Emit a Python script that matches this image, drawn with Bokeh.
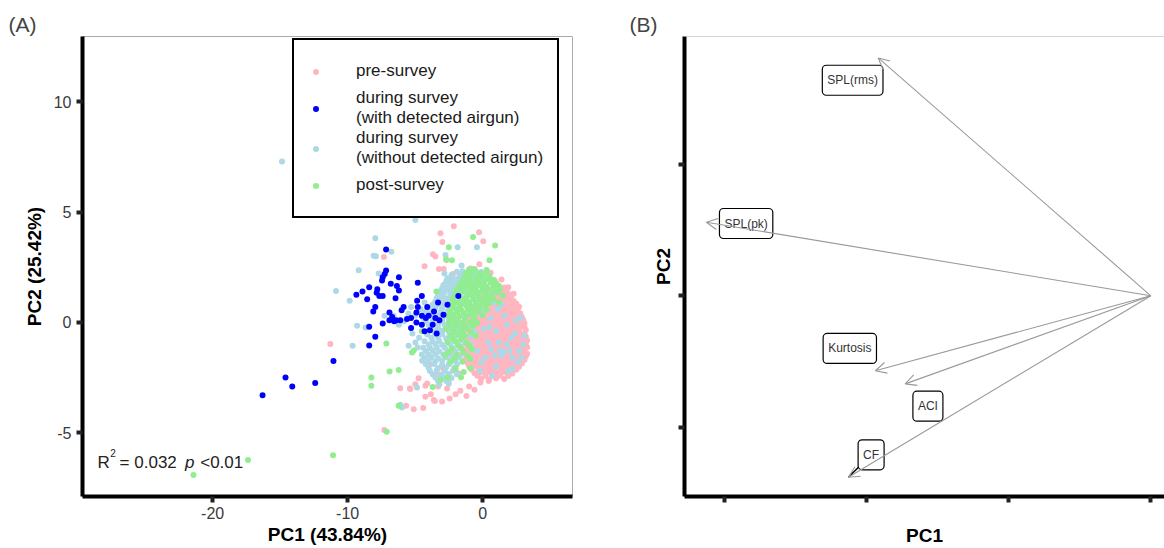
from bokeh.plotting import figure
from bokeh.layouts import row
from bokeh.models import (Legend, LegendItem, Label, Arrow, OpenHead, ColumnDataSource,
                          FixedTicker, Span, Range1d)
from bokeh.embed import file_html
from bokeh.resources import INLINE

FONT = "Liberation Sans"

# ---------------- Panel A data (PC1, PC2 scores) ----------------
pre_pts = [
    (-3.12, 4.04), (-2.13, 4.36), (-0.26, 4.09), (0.05, 3.68), (-2.98, 3.64), (-3.68, 3.09),
    (-3.50, 2.99), (-4.30, 2.55), (-2.70, 1.78), (-3.24, 2.42), (-2.88, 2.42), (-2.20, 2.20),
    (-0.24, 2.64), (-2.68, 2.82), (-7.31, 2.97), (-11.28, -0.98), (-0.90, 2.45), (0.60, 2.25),
    (0.90, 1.90), (1.40, 1.95), (1.90, 1.60), (2.30, 1.30),
    (-6.10, -2.98), (-5.39, -3.00), (-4.98, -2.80), (-5.67, -3.78), (-5.10, -3.93), (-4.40, -3.88),
    (-4.24, -3.37), (-3.62, -3.52), (-3.00, -3.58), (-2.44, -3.45), (-1.65, -3.10), (-1.20, -3.33),
    (-5.35, -3.02), (-4.24, -2.87), (-2.63, -3.00), (-0.16, -2.72), (0.45, -2.65), (-7.28, -4.88),
    (-3.83, -3.25), (-3.54, -3.56), (-2.00, -3.25), (-4.74, -2.53), (-4.11, -2.77), (-3.30, -2.90),
    (-1.00, -2.90), (-0.60, -3.05), (-3.90, -1.90), (-3.40, -2.40), (-2.50, -2.60), (-1.80, -2.30),
    (-2.90, -2.10), (-2.10, -1.40),
    (0.80, 1.60), (1.20, 1.62), (1.60, 1.58),
    (0.60, 1.45), (1.00, 1.46), (1.40, 1.44), (1.80, 1.45),
    (0.40, 1.30), (0.90, 1.32), (1.30, 1.28), (1.70, 1.31), (2.00, 1.27),
    (0.10, 1.15), (0.50, 1.16), (0.90, 1.14), (1.30, 1.15), (1.70, 1.16), (2.10, 1.14),
    (-0.20, 1.00), (0.30, 1.02), (0.70, 0.98), (1.10, 1.01), (1.50, 0.99), (1.90, 1.03), (2.30, 0.97),
    (-0.40, 0.85), (0.10, 0.86), (0.50, 0.84), (0.90, 0.85), (1.30, 0.86), (1.70, 0.84), (2.10, 0.85),
    (2.50, 0.86),
    (-0.50, 0.70), (0.00, 0.72), (0.40, 0.68), (0.80, 0.71), (1.20, 0.69), (1.60, 0.72), (2.00, 0.70),
    (2.40, 0.68), (2.70, 0.71),
    (-0.60, 0.55), (-0.10, 0.56), (0.30, 0.54), (0.70, 0.55), (1.10, 0.56), (1.50, 0.54), (1.90, 0.55),
    (2.30, 0.56), (2.60, 0.54),
    (-0.80, 0.40), (-0.30, 0.42), (0.10, 0.38), (0.50, 0.41), (0.90, 0.40), (1.30, 0.43), (1.70, 0.39),
    (2.10, 0.41), (2.50, 0.38), (2.80, 0.40),
    (-0.90, 0.25), (-0.30, 0.26), (0.10, 0.24), (0.50, 0.25), (0.90, 0.26), (1.30, 0.24), (1.70, 0.25),
    (2.10, 0.26), (2.50, 0.24), (2.90, 0.25),
    (-1.00, 0.10), (-0.50, 0.12), (-0.10, 0.08), (0.30, 0.11), (0.70, 0.09), (1.10, 0.12), (1.50, 0.10),
    (1.90, 0.08), (2.30, 0.11), (2.70, 0.09), (3.00, 0.12),
    (-1.10, -0.05), (-0.50, -0.04), (-0.10, -0.06), (0.30, -0.05), (0.70, -0.04), (1.10, -0.06),
    (1.50, -0.05), (1.90, -0.04), (2.30, -0.06), (2.70, -0.05), (3.10, -0.04),
    (-1.20, -0.20), (-0.70, -0.18), (-0.30, -0.22), (0.10, -0.19), (0.50, -0.21), (0.90, -0.18),
    (1.30, -0.20), (1.70, -0.22), (2.10, -0.19), (2.50, -0.21), (2.90, -0.18), (3.10, -0.20),
    (-1.30, -0.35), (-0.70, -0.34), (-0.30, -0.36), (0.30, -0.35), (0.70, -0.34), (1.10, -0.36),
    (1.50, -0.35), (1.90, -0.34), (2.30, -0.36), (2.70, -0.35), (3.20, -0.34),
    (-1.40, -0.50), (-0.90, -0.48), (-0.50, -0.52), (-0.10, -0.49), (0.30, -0.51), (0.70, -0.48),
    (1.10, -0.50), (1.50, -0.52), (1.90, -0.49), (2.30, -0.51), (2.70, -0.48), (3.10, -0.50),
    (-1.20, -0.65), (-0.70, -0.66), (-0.30, -0.64), (0.10, -0.65), (0.50, -0.66), (0.90, -0.64),
    (1.30, -0.65), (1.70, -0.66), (2.10, -0.64), (2.50, -0.65), (2.90, -0.66), (3.20, -0.64),
    (-1.50, -0.80), (-1.00, -0.78), (-0.60, -0.82), (-0.20, -0.79), (0.20, -0.81), (0.60, -0.78),
    (1.00, -0.80), (1.40, -0.82), (1.80, -0.79), (2.20, -0.81), (2.60, -0.78), (3.00, -0.80), (3.30, -0.82),
    (-1.30, -0.95), (-0.80, -0.96), (-0.40, -0.94), (0.00, -0.95), (0.40, -0.96), (0.80, -0.94),
    (1.20, -0.95), (1.60, -0.96), (2.00, -0.94), (2.40, -0.95), (2.80, -0.96), (3.20, -0.94),
    (-1.60, -1.10), (-1.10, -1.08), (-0.70, -1.12), (-0.30, -1.09), (0.10, -1.11), (0.50, -1.08),
    (0.90, -1.10), (1.30, -1.12), (1.70, -1.09), (2.10, -1.11), (2.50, -1.08), (2.90, -1.10), (3.30, -1.12),
    (-1.30, -1.25), (-0.90, -1.26), (-0.50, -1.24), (-0.10, -1.25), (0.30, -1.26), (0.70, -1.24),
    (1.10, -1.25), (1.50, -1.26), (1.90, -1.24), (2.30, -1.25), (2.70, -1.26), (3.10, -1.24),
    (-1.50, -1.40), (-1.00, -1.38), (-0.60, -1.42), (-0.20, -1.39), (0.20, -1.41), (0.60, -1.38),
    (1.00, -1.40), (1.40, -1.42), (1.80, -1.39), (2.20, -1.41), (2.60, -1.38), (3.00, -1.40), (3.30, -1.42),
    (-1.20, -1.55), (-0.80, -1.56), (-0.40, -1.54), (0.00, -1.55), (0.40, -1.56), (0.80, -1.54),
    (1.20, -1.55), (1.60, -1.56), (2.00, -1.54), (2.40, -1.55), (2.80, -1.56), (3.20, -1.54),
    (-1.30, -1.70), (-0.80, -1.68), (-0.40, -1.72), (0.00, -1.69), (0.40, -1.71), (0.80, -1.68),
    (1.20, -1.70), (1.60, -1.72), (2.00, -1.69), (2.40, -1.71), (2.80, -1.68), (3.10, -1.70),
    (-1.10, -1.85), (-0.70, -1.86), (-0.30, -1.84), (0.10, -1.85), (0.50, -1.86), (0.90, -1.84),
    (1.30, -1.85), (1.70, -1.86), (2.10, -1.84), (2.50, -1.85), (2.90, -1.86),
    (-1.00, -2.00), (-0.50, -1.98), (-0.10, -2.02), (0.30, -1.99), (0.70, -2.01), (1.10, -1.98),
    (1.50, -2.00), (1.90, -2.02), (2.30, -1.99), (2.70, -2.01),
    (-0.80, -2.15), (-0.30, -2.16), (0.10, -2.14), (0.50, -2.15), (0.90, -2.16), (1.30, -2.14),
    (1.70, -2.15), (2.10, -2.16), (2.50, -2.14),
    (-0.60, -2.30), (-0.20, -2.28), (0.20, -2.32), (0.60, -2.29), (1.00, -2.31), (1.40, -2.28),
    (1.80, -2.30), (2.20, -2.32),
    (-0.40, -2.42), (0.20, -2.43), (0.80, -2.41), (1.30, -2.42), (1.90, -2.43),
    (-0.10, -2.55), (0.50, -2.57), (1.00, -2.53), (1.60, -2.56),
]

without_pts = [
    (-14.86, 7.29), (-4.98, 4.64), (-7.95, 3.82), (-8.07, 3.02), (-7.90, 3.00), (-6.76, 3.20),
    (-9.18, 2.37), (-7.70, 2.22), (-10.86, 1.43), (-9.85, 0.98), (-9.30, -0.15), (-8.67, -0.23),
    (-9.63, -1.06), (-7.26, 0.30), (-5.48, -1.06), (-4.98, -0.91), (-4.81, -1.14), (-6.10, -3.73),
    (-5.97, -3.86), (-4.86, -2.95), (-1.85, 3.41), (-0.42, 3.41), (-2.75, 3.06), (-1.56, 2.58),
    (-2.83, 2.22), (-4.48, -1.74),
    (-5.50, 0.40), (-5.00, 0.30), (-6.20, -0.10), (-5.80, 0.05), (-4.60, 0.60), (-5.20, -0.50),
    (-4.30, 0.90), (-4.70, -0.70), (-6.60, 0.30), (-5.30, 0.70),
    (-1.90, 2.30), (-1.50, 2.32), (-1.00, 2.28), (-0.50, 2.31), (-0.10, 2.29),
    (-2.30, 2.15), (-1.70, 2.16), (-1.20, 2.14), (-0.70, 2.15),
    (-2.60, 2.00), (-2.20, 2.02), (-1.80, 1.98), (-1.40, 2.01), (-0.90, 1.99), (-0.30, 2.02), (0.20, 1.98),
    (-2.70, 1.85), (-2.30, 1.86), (-1.90, 1.84), (-1.50, 1.85), (-1.00, 1.86),
    (-2.90, 1.70), (-2.50, 1.72), (-2.10, 1.68), (-1.70, 1.71), (-1.20, 1.69), (-0.60, 1.72),
    (-3.00, 1.55), (-2.60, 1.56), (-2.20, 1.54), (-1.80, 1.55), (-1.30, 1.56),
    (-3.20, 1.40), (-2.80, 1.42), (-2.40, 1.38), (-2.00, 1.41), (-1.50, 1.39), (-0.80, 1.42), (0.30, 1.38),
    (-3.30, 1.25), (-2.90, 1.26), (-2.40, 1.24), (-1.90, 1.25),
    (-3.40, 1.10), (-3.00, 1.12), (-2.60, 1.08), (-2.20, 1.11), (-1.40, 1.09), (-0.50, 1.12),
    (-3.50, 0.95), (-3.10, 0.96), (-2.70, 0.94),
    (-3.70, 0.80), (-3.30, 0.82), (-2.90, 0.78), (-2.40, 0.81), (-1.60, 0.79),
    (-4.00, 0.65), (-3.50, 0.66), (-3.00, 0.64), (-2.20, 0.65),
    (-4.20, 0.50), (-3.80, 0.52), (-3.10, 0.48), (-2.60, 0.51), (-1.90, 0.49), (-0.90, 0.52),
    (-4.30, 0.35), (-3.70, 0.36), (-3.20, 0.34), (-2.80, 0.35), (-2.20, 0.36),
    (-4.40, 0.20), (-3.50, 0.22), (-3.00, 0.18), (-2.50, 0.21), (-2.00, 0.19), (-1.30, 0.22),
    (-4.20, 0.05), (-3.70, 0.06), (-3.00, 0.04), (-2.50, 0.05), (-1.90, 0.06),
    (-4.00, -0.10), (-3.30, -0.08), (-2.80, -0.12), (-2.30, -0.09), (-1.60, -0.11),
    (-3.90, -0.25), (-3.30, -0.26), (-2.70, -0.24), (-2.20, -0.25), (-1.40, -0.26),
    (-3.60, -0.40), (-3.00, -0.38), (-2.50, -0.42), (-1.90, -0.39), (-0.60, -0.41),
    (-4.10, -0.55), (-3.50, -0.56), (-3.00, -0.54), (-2.30, -0.55), (-1.70, -0.56),
    (-3.80, -0.70), (-3.30, -0.68), (-2.70, -0.72), (-2.10, -0.69), (-1.50, -0.71),
    (-4.30, -0.85), (-3.70, -0.86), (-3.20, -0.84), (-2.60, -0.85), (-2.00, -0.86), (-1.40, -0.84),
    (-4.00, -1.00), (-3.50, -0.98), (-3.00, -1.02), (-2.40, -0.99), (-1.80, -1.01), (-0.90, -0.98),
    (-4.40, -1.15), (-3.90, -1.16), (-3.40, -1.14), (-2.80, -1.15), (-2.20, -1.16), (-1.60, -1.14),
    (-4.20, -1.30), (-3.70, -1.28), (-3.20, -1.32), (-2.60, -1.29), (-2.00, -1.31),
    (-4.50, -1.45), (-4.00, -1.46), (-3.50, -1.44), (-2.90, -1.45), (-2.40, -1.46), (-1.90, -1.44),
    (-4.30, -1.60), (-3.80, -1.58), (-3.30, -1.62), (-2.70, -1.59), (-2.20, -1.61), (-1.70, -1.58),
    (-4.00, -1.75), (-3.50, -1.76), (-3.00, -1.74), (-2.40, -1.75), (-2.00, -1.76),
    (-4.20, -1.90), (-3.60, -1.88), (-3.00, -1.92), (-2.50, -1.89), (-1.90, -1.91),
    (-4.00, -2.05), (-3.30, -2.06), (-2.70, -2.04), (-2.10, -2.05),
    (-3.90, -2.20), (-3.40, -2.18), (-2.80, -2.22), (-2.20, -2.19),
    (-3.70, -2.35), (-3.10, -2.36), (-2.50, -2.34), (-1.90, -2.35),
    (-3.50, -2.50), (-2.90, -2.48), (-2.30, -2.52), (-3.30, -2.65), (-2.70, -2.66),
    (-3.20, -2.80), (-2.50, -2.78),
    (0.50, -0.20), (1.20, -0.90), (2.00, -1.30), (1.60, 0.30), (0.20, -1.60), (2.40, -0.50),
    (0.80, 0.90), (-0.40, -1.30), (1.00, -2.00), (2.60, -1.80), (1.80, -0.10), (0.00, 0.50),
    (1.40, -1.50), (0.60, -1.20), (2.20, -2.10), (-0.80, -0.60), (-0.20, -2.20), (3.00, -1.00),
    (1.10, 0.60), (0.30, 1.20), (2.80, 0.20),
    (1.30, -1.25), (1.55, -1.35), (0.90, -1.50), (1.80, -1.00), (0.40, -0.90), (2.10, -0.70),
    (2.70, -1.30), (0.10, -0.30), (0.70, -2.40), (1.90, -2.20), (2.90, -1.60), (2.50, 0.10),
    (1.40, 0.80), (-0.10, -1.80), (1.00, -0.40), (0.60, 0.20), (2.20, -1.60), (3.10, -0.60),
]

post_pts = [
    (-21.42, -6.92), (-17.38, -6.23), (-11.08, -6.02), (-7.13, -0.96), (-5.23, -1.36), (-6.89, -2.22),
    (-6.22, -2.16), (-8.24, -2.50), (-8.24, -2.87), (-6.22, -3.78), (-7.10, -4.96), (-0.71, 3.87),
    (0.93, 3.49), (-2.50, 3.41), (-2.27, 2.82), (-2.70, 2.86), (0.51, 2.82), (-3.42, 1.40),
    (-4.50, -0.40), (-5.10, -1.27), (-3.70, -2.93), (-3.10, -2.60),
    (-1.00, 2.40), (-0.60, 2.42), (0.30, 2.38),
    (-1.20, 2.25), (-0.80, 2.26), (-0.20, 2.24), (0.30, 2.25),
    (-1.30, 2.10), (-0.90, 2.12), (-0.40, 2.08), (0.00, 2.11), (0.50, 2.09),
    (-1.40, 1.95), (-1.00, 1.96), (-0.50, 1.94), (-0.10, 1.95), (0.40, 1.96), (0.80, 1.94),
    (-1.60, 1.80), (-1.10, 1.82), (-0.70, 1.78), (-0.30, 1.81), (0.10, 1.79), (0.60, 1.82), (1.00, 1.78),
    (-1.70, 1.65), (-1.30, 1.66), (-0.90, 1.64), (-0.50, 1.65), (-0.10, 1.66), (0.30, 1.64),
    (0.80, 1.65), (1.20, 1.66),
    (-1.90, 1.50), (-1.40, 1.52), (-0.90, 1.48), (-0.50, 1.51), (0.00, 1.49), (0.40, 1.52), (0.90, 1.48),
    (1.30, 1.51),
    (-2.00, 1.35), (-1.60, 1.36), (-1.10, 1.34), (-0.60, 1.35), (-0.20, 1.36), (0.20, 1.34),
    (0.70, 1.35), (1.10, 1.36),
    (-2.10, 1.20), (-1.70, 1.22), (-1.20, 1.18), (-0.80, 1.21), (-0.30, 1.19), (0.20, 1.22), (0.60, 1.18),
    (1.50, 1.21),
    (-2.20, 1.05), (-1.60, 1.06), (-1.20, 1.04), (-0.70, 1.05), (-0.20, 1.06), (0.30, 1.04), (0.80, 1.05),
    (-2.30, 0.90), (-1.90, 0.92), (-1.40, 0.88), (-1.00, 0.91), (-0.50, 0.89), (0.00, 0.92), (0.50, 0.88),
    (1.20, 0.91),
    (-2.20, 0.75), (-1.70, 0.76), (-1.20, 0.74), (-0.80, 0.75), (-0.30, 0.76), (0.20, 0.74),
    (-2.40, 0.60), (-2.00, 0.62), (-1.60, 0.58), (-1.10, 0.61), (-0.70, 0.59), (-0.20, 0.62), (0.30, 0.58),
    (-2.40, 0.45), (-1.90, 0.46), (-1.40, 0.44), (-0.90, 0.45), (-0.40, 0.46),
    (-2.60, 0.30), (-2.20, 0.32), (-1.70, 0.28), (-1.20, 0.31), (-0.70, 0.29), (0.00, 0.32),
    (-2.30, 0.15), (-1.80, 0.16), (-1.30, 0.14), (-0.60, 0.15),
    (-2.50, 0.00), (-2.00, 0.02), (-1.50, -0.02), (-0.90, 0.01), (-0.40, -0.01),
    (-2.40, -0.15), (-1.90, -0.16), (-1.30, -0.14), (-0.70, -0.15),
    (-2.70, -0.30), (-2.20, -0.28), (-1.60, -0.32), (-1.10, -0.29),
    (-2.10, -0.45), (-1.50, -0.46), (-0.90, -0.44),
    (-2.40, -0.60), (-1.80, -0.58), (-1.30, -0.62), (-0.50, -0.59),
    (-2.20, -0.75), (-1.60, -0.76),
    (-2.60, -0.90), (-2.00, -0.88), (-1.20, -0.92),
    (-1.80, -1.05), (-1.00, -1.06),
    (-2.30, -1.20), (-1.60, -1.18), (-0.80, -1.22),
    (-2.50, -1.35), (-1.40, -1.36),
    (-2.80, -1.50), (-1.90, -1.48), (-1.10, -1.52),
    (-2.10, -1.65), (-0.90, -1.66),
    (-2.40, -1.80), (-1.50, -1.78),
    (-2.00, -2.10), (-0.90, -2.08), (-1.40, -2.25),
    (-2.60, -2.50), (-1.60, -2.48),
]

with_pts = [
    (-16.30, -3.30), (-14.60, -2.50), (-14.10, -2.90), (-12.40, -2.75), (-11.05, -1.75), (-8.40, -1.05),
    (-7.95, -0.65), (-8.40, -0.20), (-7.40, -0.05),
    (-7.15, 3.30), (-7.15, 2.35), (-7.25, 2.20), (-7.40, 2.05), (-7.45, 1.90), (-6.20, 2.05),
    (-6.80, 1.75), (-6.35, 1.65), (-6.20, 1.45), (-6.45, 1.10),
    (-8.40, 1.60), (-7.80, 1.50), (-7.85, 1.35), (-7.65, 1.20), (-7.40, 1.20), (-8.90, 1.40),
    (-9.35, 1.25), (-8.55, 1.05),
    (-4.80, 1.80), (-4.85, 0.98), (-4.80, 0.70), (-7.95, 0.70), (-8.10, 0.50), (-6.90, 0.45),
    (-6.00, 0.55), (-5.85, 0.70), (-6.70, 0.25), (-6.40, 0.10), (-5.60, 0.15), (-5.30, 0.20),
    (-6.90, 0.10), (-6.55, 0.05), (-6.10, 0.10),
    (-1.80, 1.20), (-4.90, 0.45), (-4.50, 0.30), (-4.90, 0.00), (-4.20, 0.20), (-3.70, -0.10),
    (-4.50, -0.10), (-4.00, 0.30), (-3.50, 0.20), (-3.20, 0.10), (-4.30, -0.40), (-3.90, -0.35),
    (-3.60, 0.50), (-2.90, 0.35), (-2.60, 0.80), (-3.30, 0.90), (-4.50, 1.20), (-5.30, -0.25),
    (-3.40, -0.50), (-4.10, 0.70),
]

groups = ["pre-survey", "during survey\n(with detected airgun)",
          "during survey\n(without detected airgun)", "post-survey"]
group_colors = ["#FFB6C1", "#0000FF", "#ADD8E6", "#90EE90"]

x_ticks_a = [-20, -10, 0]
y_ticks_a = [-5, 0, 5, 10]

r2_text = "0.032"
p_text = "<0.01"

# ---------------- Panel B data (loadings) ----------------
var_names = ["SPL(rms)", "SPL(pk)", "Kurtosis", "ACI", "CF"]
load_pc1 = [-1.92, -3.13, -1.94, -1.73, -2.13]
load_pc2 = [1.81, 0.56, -0.57, -0.67, -1.38]
label_pc1 = [-2.10, -2.85, -2.12, -1.57, -1.97]
label_pc2 = [1.64, 0.55, -0.40, -0.84, -1.21]
leader = [False, False, False, False, True]
origin = 0.0


def style_axes(p, label_size="19px"):
    for ax in (p.xaxis[0], p.yaxis[0]):
        ax.axis_line_width = 4
        ax.axis_line_color = "black"
        ax.major_tick_line_width = 4
        ax.major_tick_line_color = "#222222"
        ax.major_tick_out = 6
        ax.major_tick_in = 0
        ax.minor_tick_line_color = None
        ax.major_label_text_font = FONT
        ax.major_label_text_font_size = "16px"
        ax.major_label_text_color = "#3a3a3a"
        ax.axis_label_text_font = FONT
        ax.axis_label_text_font_size = label_size
        ax.axis_label_text_font_style = "bold"
        ax.axis_label_text_color = "black"
    p.grid.visible = False


# ---------------- Panel A ----------------
pA = figure(width=600, height=548, x_range=Range1d(-29.64, 6.66), y_range=Range1d(-7.89, 12.96),
            output_backend="svg", toolbar_location=None,
            min_border_left=82, min_border_right=28, min_border_top=36, min_border_bottom=52,
            background_fill_color="white", border_fill_color="white")
pA.outline_line_color = "#aaaaaa"
pA.outline_line_width = 1
style_axes(pA)
pA.xaxis.ticker = FixedTicker(ticks=x_ticks_a)
pA.yaxis.ticker = FixedTicker(ticks=y_ticks_a)
pA.xaxis.major_label_overrides = {t: str(t) for t in x_ticks_a}
pA.yaxis.major_label_overrides = {t: str(t) for t in y_ticks_a}
pA.xaxis.axis_label = "PC1 (43.84%)"
pA.yaxis.axis_label = "PC2 (25.42%)"
pA.xaxis.major_label_standoff = 4
pA.xaxis.axis_label_standoff = 2
pA.yaxis.major_label_standoff = 5
pA.yaxis.axis_label_standoff = 6

pA.title.text = "(A)"
pA.title.text_font = FONT
pA.title.text_font_size = "21px"
pA.title.text_font_style = "normal"
pA.title.align = "left"
pA.title.offset = -74
pA.title.standoff = 1

pts_by_group = [pre_pts, with_pts, without_pts, post_pts]
renderers = {}
draw_order = [0, 2, 3, 1]
for gi in draw_order:
    pts = pts_by_group[gi]
    xs = [a for a, b in pts]
    ys = [b for a, b in pts]
    renderers[gi] = pA.scatter(xs, ys, size=6, marker="circle", fill_color=group_colors[gi],
                               line_color=None)

legend = Legend(items=[LegendItem(label=groups[i], renderers=[renderers[i]]) for i in range(4)],
                location=(210, 278), border_line_color="black", border_line_width=2,
                border_line_alpha=1.0,
                padding=14, spacing=0, margin=0, label_height=34, glyph_height=15,
                glyph_width=15, label_standoff=33, label_text_font=FONT,
                label_text_font_size="17px", label_text_color="#1a1a1a",
                label_text_line_height=1.1, background_fill_color="white",
                background_fill_alpha=1)
pA.add_layout(legend)

ann_y = -6.35
pA.add_layout(Label(x=-28.53, y=ann_y, text="R", text_font=FONT, text_font_size="17px",
                    text_baseline="alphabetic", text_color="#222222"))
pA.add_layout(Label(x=-27.59, y=-5.90, text="2", text_font=FONT, text_font_size="10px",
                    text_baseline="alphabetic", text_color="#222222"))
pA.add_layout(Label(x=-26.89, y=ann_y, text="= " + r2_text, text_font=FONT, text_font_size="17px",
                    text_baseline="alphabetic", text_color="#222222"))
pA.add_layout(Label(x=-22.05, y=ann_y, text="p", text_font=FONT, text_font_size="17px",
                    text_font_style="italic", text_baseline="alphabetic", text_color="#222222"))
pA.add_layout(Label(x=-20.92, y=ann_y, text=p_text, text_font=FONT, text_font_size="17px",
                    text_baseline="alphabetic", text_color="#222222"))

# ---------------- Panel B ----------------
pB = figure(width=564, height=548, x_range=Range1d(-3.284, 0.096), y_range=Range1d(-1.527, 1.973),
            output_backend="svg", toolbar_location=None,
            min_border_left=84, min_border_right=0, min_border_top=36, min_border_bottom=52,
            background_fill_color="white", border_fill_color="white")
pB.outline_line_color = None
style_axes(pB)
xt = [-3, -2, -1, 0]
yt = [-1, 0, 1]
pB.xaxis.ticker = FixedTicker(ticks=xt)
pB.yaxis.ticker = FixedTicker(ticks=yt)
pB.xaxis.major_label_overrides = {t: "" for t in xt}
pB.yaxis.major_label_overrides = {t: "" for t in yt}
pB.xaxis.major_label_text_font_size = "0px"
pB.yaxis.major_label_text_font_size = "0px"
pB.xaxis.major_label_standoff = 0
pB.yaxis.major_label_standoff = 0
pB.xaxis.axis_label = "PC1"
pB.yaxis.axis_label = "PC2"
pB.xaxis.axis_label_standoff = 22
pB.yaxis.axis_label_standoff = 5
pB.add_layout(Span(location=pB.y_range.end, dimension="width", line_color="#aaaaaa", line_width=1))

pB.title.text = "(B)"
pB.title.text_font = FONT
pB.title.text_font_size = "21px"
pB.title.text_font_style = "normal"
pB.title.align = "left"
pB.title.offset = -55
pB.title.standoff = 1

for i in range(len(var_names)):
    if leader[i]:
        pB.segment(x0=[label_pc1[i]], y0=[label_pc2[i]], x1=[load_pc1[i]], y1=[load_pc2[i]],
                   line_color="black", line_width=1.5)

for i in range(len(var_names)):
    pB.add_layout(Label(x=label_pc1[i], y=label_pc2[i], text=var_names[i], anchor="center",
                        text_align="center", text_baseline="middle", text_font=FONT,
                        text_font_size="12px", text_color="#333333",
                        border_line_color="black", border_line_width=1.2, border_radius=4,
                        background_fill_color="white", padding=(5, 8)))

arrow_src = ColumnDataSource(dict(x0=[origin] * len(var_names), y0=[origin] * len(var_names),
                                  x1=load_pc1, y1=load_pc2))
pB.add_layout(Arrow(end=OpenHead(size=11, line_color="#999999", line_width=1.1),
                    x_start="x0", y_start="y0", x_end="x1", y_end="y1", source=arrow_src,
                    line_color="#999999", line_width=1.1))

layout = row(pA, pB)
open("out.html", "w").write(file_html(layout, INLINE))
